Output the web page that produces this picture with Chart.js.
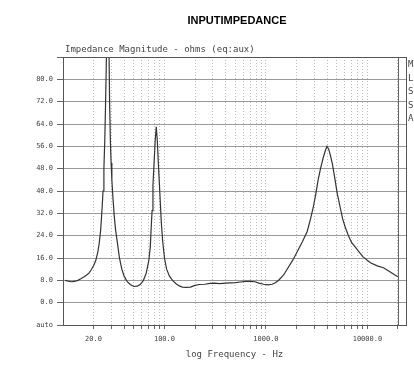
<!DOCTYPE html>
<html>
<head>
<meta charset="utf-8">
<script src="https://cdn.jsdelivr.net/npm/chart.js@4/dist/chart.umd.min.js"></script>
<style>
html, body { margin: 0; padding: 0; background: #fff; }
</style>
</head>
<body>
<canvas id="imp" width="414" height="367"></canvas>
<script>
// impedance sweep
const freqHz = [
  10.5, 11, 12, 13, 14, 15, 16, 17, 18, 19,
  20, 21, 22, 22.7, 23.5, 24.3, 24.8, 25.3, 25.8, 26.3,
  27, 27.6, 28.3, 28.8, 29.3, 29.8, 30.3, 31, 32, 33,
  34.5, 36, 38, 40, 43, 46, 50, 54, 58, 62,
  66, 70, 72.5, 74, 75.5, 77, 79, 81, 83, 85,
  87, 89, 91, 93, 96, 100, 105, 112, 120, 130,
  140, 150, 165, 180, 200, 220, 250, 280, 310, 350,
  400, 450, 500, 560, 630, 700, 780, 850, 950, 1050,
  1150, 1250, 1350, 1500, 1650, 1850, 2050, 2300, 2550, 2750,
  2920, 3100, 3270, 3450, 3670, 3850, 4000, 4150, 4300, 4500,
  4750, 5050, 5400, 5700, 6050, 6500, 7000, 7950, 9000, 10700,
  12500, 14400, 16500, 18500, 20000
];
const ohms = [
  8.0, 7.8, 7.5, 7.6, 8.0, 8.6, 9.2, 9.8, 10.6, 11.8,
  13.2, 15.0, 18.0, 21, 26, 34, 40, 48, 58, 72,
  95, 110, 95, 72, 58, 50, 44, 38, 31, 26,
  21, 16, 12, 9.5, 7.5, 6.5, 5.8, 5.9, 6.6, 8.0,
  10.5, 15, 20, 27, 33, 42, 50, 58, 63, 58,
  50, 43, 36, 29, 22, 16, 12, 9.5, 8.0, 6.8,
  6.0, 5.6, 5.5, 5.6, 6.2, 6.5, 6.6, 6.9, 7.0, 6.8,
  7.0, 7.1, 7.2, 7.4, 7.6, 7.6, 7.5, 7.0, 6.6, 6.4,
  6.6, 7.2, 8.2, 10, 12.5, 15.4, 18.5, 22, 25.5, 30,
  34, 39, 44, 48, 52, 54.5, 56, 55, 53, 50,
  45, 39, 34, 30, 27, 24, 21.5, 19, 16.5, 14.3,
  13.2, 12.5, 11.2, 10, 9.3
];

const yTicks = [-8, 0, 8, 16, 24, 32, 40, 48, 56, 64, 72, 80, 88];
const xTicks = [
  20, 30, 40, 50, 60, 70, 80, 90,
  100, 200, 300, 400, 500, 600, 700, 800, 900,
  1000, 2000, 3000, 4000, 5000, 6000, 7000, 8000, 9000,
  10000, 20000
];
const xLabels = { 20: '20.0', 100: '100.0', 1000: '1000.0', 10000: '10000.0' };
const sideLetters = ['M', 'L', 'S', 'S', 'A'];

const mono = 'DejaVu Sans Mono';

const overlay = {
  id: 'overlay',
  afterDraw(chart) {
    const { ctx, chartArea: a, scales } = chart;
    ctx.save();
    // 20 kHz limit line
    const x20k = Math.round(scales.x.getPixelForValue(20000)) + 0.5;
    ctx.strokeStyle = '#666';
    ctx.lineWidth = 1;
    ctx.beginPath();
    ctx.moveTo(x20k, a.top);
    ctx.lineTo(x20k, a.bottom);
    ctx.stroke();
    // plot frame
    ctx.strokeStyle = '#555';
    ctx.strokeRect(Math.round(a.left) + 0.5, Math.round(a.top) + 0.5,
      Math.round(a.right - a.left), Math.round(a.bottom - a.top));

    ctx.fillStyle = '#000';
    ctx.font = 'bold 11px "Liberation Sans", Arial, sans-serif';
    ctx.textAlign = 'center';
    ctx.textBaseline = 'middle';
    ctx.fillText('INPUTIMPEDANCE', 237, 21);

    ctx.fillStyle = '#444';
    ctx.font = '9px "' + mono + '"';
    ctx.textAlign = 'left';
    ctx.fillText('Impedance Magnitude - ohms (eq:aux)', 65, 50);

    sideLetters.forEach((l, i) => ctx.fillText(l, 408, 65 + i * 13.5));
    ctx.restore();
  }
};

new Chart(document.getElementById('imp'), {
  type: 'line',
  data: {
    datasets: [{
      data: freqHz.map((f, i) => ({ x: f, y: ohms[i] })),
      borderColor: '#333',
      borderWidth: 1.2,
      pointRadius: 0,
      tension: 0,
      fill: false
    }]
  },
  options: {
    responsive: false,
    devicePixelRatio: 1,
    animation: false,
    layout: { padding: { top: 57, right: 8, bottom: 0, left: 0 } },
    plugins: {
      legend: { display: false },
      tooltip: { enabled: false }
    },
    scales: {
      x: {
        type: 'logarithmic',
        min: 10,
        max: 24000,
        afterBuildTicks: s => { s.ticks = xTicks.map(v => ({ value: v })); },
        afterFit: s => { s.height = 42; },
        ticks: {
          autoSkip: false,
          maxRotation: 0,
          padding: 6,
          color: '#444',
          font: { family: mono, size: 7 },
          callback: v => xLabels[v] || ''
        },
        grid: {
          color: '#bbb',
          lineWidth: 1,
          tickLength: 4,
          tickColor: '#666'
        },
        border: { display: true, color: '#555', dash: [1, 2] },
        title: {
          display: true,
          text: 'log Frequency - Hz',
          color: '#444',
          font: { family: mono, size: 9 },
          padding: { top: 0, bottom: 7 }
        }
      },
      y: {
        min: -8,
        max: 88,
        afterBuildTicks: s => { s.ticks = yTicks.map(v => ({ value: v })); },
        afterFit: s => { s.width = 63; },
        ticks: {
          padding: 4,
          color: '#444',
          font: { family: mono, size: 7 },
          callback: v => v === -8 ? 'auto' : (v === 88 ? '' : v.toFixed(1))
        },
        grid: {
          color: '#999',
          lineWidth: 1,
          tickLength: 6,
          tickColor: '#666'
        },
        border: { display: true, color: '#555' }
      }
    }
  },
  plugins: [overlay]
});
</script>
</body>
</html>
